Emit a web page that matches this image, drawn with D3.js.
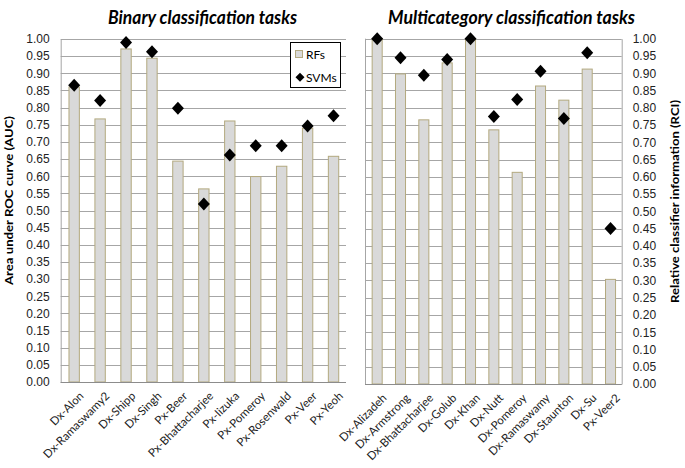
<!DOCTYPE html>
<html><head><meta charset="utf-8">
<script src="https://cdn.jsdelivr.net/npm/d3@7"></script>
<style>
body{margin:0;background:#fff;}
svg{display:block;font-family:Lato,"Open Sans",sans-serif;}
</style></head>
<body><svg id="c" width="685" height="468"></svg>
<script>
const binaryTasks = ["Dx-Alon","Dx-Ramaswamy2","Dx-Shipp","Dx-Singh","Px-Beer","Px-Bhattacharjee","Px-Iizuka","Px-Pomeroy","Px-Rosenwald","Px-Veer","Px-Yeoh"];
const binaryRF  = [0.860,0.767,0.971,0.944,0.644,0.563,0.761,0.599,0.629,0.740,0.658];
const binarySVM = [0.865,0.821,0.990,0.963,0.798,0.519,0.662,0.689,0.689,0.746,0.776];
const multiTasks = ["Dx-Alizadeh","Dx-Armstrong","Dx-Bhattacharjee","Dx-Golub","Dx-Khan","Dx-Nutt","Dx-Pomeroy","Dx-Ramaswamy","Dx-Staunton","Dx-Su","Px-Veer2"];
const multiRF  = [1.000,0.898,0.765,0.930,1.000,0.736,0.613,0.863,0.822,0.912,0.303];
const multiSVM = [1.000,0.945,0.894,0.940,1.000,0.775,0.824,0.906,0.769,0.959,0.450];
const yTicks = d3.range(0,1.0001,0.05);
const titles = ["Binary classification tasks","Multicategory classification tasks"];
const yLabels = ["Area under ROC curve (AUC)","Relative classifier information (RCI)"];
const legendNames = ["RFs","SVMs"];

const svg = d3.select("#c");
const barFill = "#d9d9d9", barStroke = "#b3a97f", gridCol = "#a6a6a6";
const diamond = "M0,-6.5L6,0L0,6.5L-6,0Z";

function panel(cfg){
  const {x0,x1,yTop,yBot,cats,rf,svm,axisSide,title,pad} = cfg;
  const x = d3.scaleBand().domain(cats).range([x0,x1]).paddingInner(pad).paddingOuter(pad/2);
  const y = d3.scaleLinear().domain([0,1]).range([yBot,yTop]);
  const g = svg.append("g");
  g.selectAll("line.grid").data(yTicks).join("line")
    .attr("x1",x0).attr("x2",x1).attr("y1",d=>Math.round(y(d))+0.5).attr("y2",d=>Math.round(y(d))+0.5)
    .attr("stroke",gridCol).attr("stroke-width",1);
  g.selectAll("rect.bar").data(cats).join("rect")
    .attr("x",d=>x(d)+0.5).attr("width",x.bandwidth())
    .attr("y",(d,i)=>y(rf[i])).attr("height",(d,i)=>y(0)-y(rf[i]))
    .attr("fill",barFill).attr("stroke",barStroke).attr("stroke-width",1);
  const ax = axisSide==="left" ? d3.axisLeft(y) : d3.axisRight(y);
  ax.tickValues(yTicks).tickFormat(d3.format(".2f")).tickSize(0).tickPadding(11);
  const axG = g.append("g").attr("transform",`translate(${axisSide==="left"?x0:x1},0)`).call(ax);
  axG.select(".domain").attr("stroke",gridCol);
  axG.selectAll("text").attr("font-size",12).attr("fill","#222");
  if(axisSide==="right"){
    g.append("line").attr("x1",x0+0.5).attr("x2",x0+0.5).attr("y1",yTop).attr("y2",yBot).attr("stroke",gridCol);
  }
  g.append("line").attr("x1",x0).attr("x2",x1).attr("y1",yBot+0.5).attr("y2",yBot+0.5).attr("stroke","#8c8c8c");
  g.selectAll("text.cat").data(cats).join("text")
    .attr("transform",d=>`translate(${x(d)+x.bandwidth()/2+5},${yBot+9}) rotate(-45)`)
    .attr("text-anchor","end").attr("dy","0.7em").attr("font-size",11.5).attr("fill","#222").text(d=>d);
  g.selectAll("path.svm").data(cats).join("path")
    .attr("d",diamond).attr("transform",(d,i)=>`translate(${x(d)+x.bandwidth()/2+0.5},${y(svm[i])})`)
    .attr("fill","#000");
  g.append("text").attr("x",cfg.titleX).attr("y",24).attr("text-anchor","middle")
    .attr("font-size",18).attr("font-weight","bold").attr("font-style","italic")
    .attr("textLength",cfg.titleW).attr("lengthAdjust","spacingAndGlyphs").text(title);
  return {x,y};
}

panel({x0:60.7,x1:346,yTop:39,yBot:382,cats:binaryTasks,rf:binaryRF,svm:binarySVM,axisSide:"left",title:titles[0],titleX:202.5,titleW:189,pad:0.6});
panel({x0:365,x1:621.7,yTop:38.7,yBot:384,cats:multiTasks,rf:multiRF,svm:multiSVM,axisSide:"right",title:titles[1],titleX:511.5,titleW:247,pad:0.57});

svg.append("text").attr("transform","translate(13,200.5) rotate(-90)").attr("text-anchor","middle")
  .attr("font-size",11.5).attr("font-weight","bold").attr("textLength",169).attr("lengthAdjust","spacingAndGlyphs").text(yLabels[0]);
svg.append("text").attr("transform","translate(679,201.5) rotate(-90)").attr("text-anchor","middle")
  .attr("font-size",11.5).attr("font-weight","bold").attr("textLength",203).attr("lengthAdjust","spacingAndGlyphs").text(yLabels[1]);

const lg = svg.append("g");
lg.append("rect").attr("x",290.5).attr("y",42.5).attr("width",50).attr("height",45)
  .attr("fill","#fff").attr("stroke","#000").attr("stroke-width",1);
lg.append("rect").attr("x",295.5).attr("y",50.5).attr("width",7).attr("height",7)
  .attr("fill",barFill).attr("stroke",barStroke);
lg.append("text").attr("x",306).attr("y",54.5).attr("dy","0.35em").attr("font-size",12).text(legendNames[0]);
lg.append("path").attr("d","M0,-4.5L4.5,0L0,4.5L-4.5,0Z").attr("transform","translate(300,77.3)").attr("fill","#000");
lg.append("text").attr("x",306).attr("y",77.3).attr("dy","0.35em").attr("font-size",12).text(legendNames[1]);
</script></body></html>
